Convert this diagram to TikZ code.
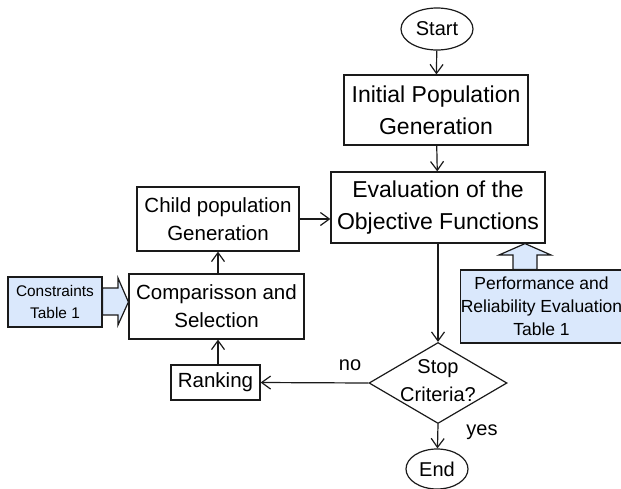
\documentclass[tikz,border=0pt]{standalone}
\usepackage{fontspec}
\setmainfont{Liberation Sans}
\usetikzlibrary{shapes.geometric,arrows.meta,calc}
\definecolor{lblue}{HTML}{DAE8FC}
\definecolor{lnc}{HTML}{1A1A1A}
\tikzset{
  box/.style={draw=lnc, line width=1.2pt, rectangle, inner sep=0pt, align=center},
  bluebox/.style={box, fill=lblue},
  term/.style={draw=lnc, line width=1.2pt, ellipse, inner sep=0pt},
  dia/.style={draw=lnc, line width=1.2pt, diamond, inner sep=0pt},
  conn/.style={draw=lnc, line width=1.2pt, -{Straight Barb[length=9pt,width=13pt,line width=1.2pt]}},
  blockarrow/.style={draw=lnc, line width=1.2pt, fill=lblue, line join=miter},
  fA/.style={font=\fontsize{23}{32}\selectfont},
  fB/.style={font=\fontsize{20.5}{28}\selectfont},
  fC/.style={font=\fontsize{17.5}{23}\selectfont},
  fD/.style={font=\fontsize{15.4}{22}\selectfont},
  lbl/.style={inner sep=0pt, font=\fontsize{20}{24}\selectfont}
}
\begin{document}
\begin{tikzpicture}[x=1pt,y=-1pt]
\useasboundingbox (0,0) rectangle (621,488);
% terminals
\node[term, minimum width=72pt, minimum height=42pt, font=\fontsize{20}{24}\selectfont] (start) at (437,29) {Start};
\node[term, minimum width=62pt, minimum height=40pt, font=\fontsize{20}{24}\selectfont] (end) at (437,469) {End};
% process boxes
\node[box, fA, minimum width=184pt, minimum height=70pt] (init) at (436,110) {Initial Population\\Generation};
\node[box, fA, minimum width=214pt, minimum height=71pt] (eval) at (438,207.5) {Evaluation of the\\Objective Functions};
\node[box, fB, minimum width=162pt, minimum height=64pt] (child) at (218,219) {Child population\\Generation};
\node[box, fB, minimum width=175pt, minimum height=65pt] (comp) at (216.5,306.5) {Comparisson and\\Selection};
\node[box, fB, minimum width=89pt, minimum height=35pt] (rank) at (215.5,382.5) {Ranking};
% decision
\node[dia, minimum width=138pt, minimum height=81pt] (stop) at (438,383) {};
\node[align=center, inner sep=0pt, font=\fontsize{20}{28}\selectfont] (stoptext) at (438,381) {Stop\\Criteria?};
% inputs
\node[bluebox, fC, minimum width=157pt, minimum height=73pt] (perf) at (541.5,306.5) {Performance and\\Reliability Evaluation\\Table 1};
\node[bluebox, fD, minimum width=94pt, minimum height=50pt] (cons) at (55,302) {Constraints\\Table 1};
% labels
\node[lbl] (no) at (350,365) {no};
\node[lbl] (yes) at (482,432) {yes};
% connectors
\draw[conn] (start) -- (init);
\draw[conn] (init) -- (eval);
\draw[conn] (eval.south -| stop.north) -- (stop.north);
\draw[conn] (stop.south) -- (end);
\draw[conn] (stop.west) -- (rank.east);
\draw[conn] (rank.north -| 218,0) -- (comp.south -| 218,0);
\draw[conn] (comp.north -| 218,0) -- (child.south -| 218,0);
\draw[conn] (child.east) -- (child.east -| eval.west);
% block arrow up (perf -> eval)
\draw[blockarrow] (perf.north -| 513,0) -- (513,255) -- (499,255) -- (eval.south -| 525,0) -- (551,255) -- (537,255) -- (perf.north -| 537,0) -- cycle;
% block arrow right (cons -> comp)
\draw[blockarrow] (cons.east |- 0,288) -- (118,288) -- (118,278) -- (comp.west |- 0,302) -- (118,325) -- (118,315) -- (cons.east |- 0,315) -- cycle;
\end{tikzpicture}
\end{document}
